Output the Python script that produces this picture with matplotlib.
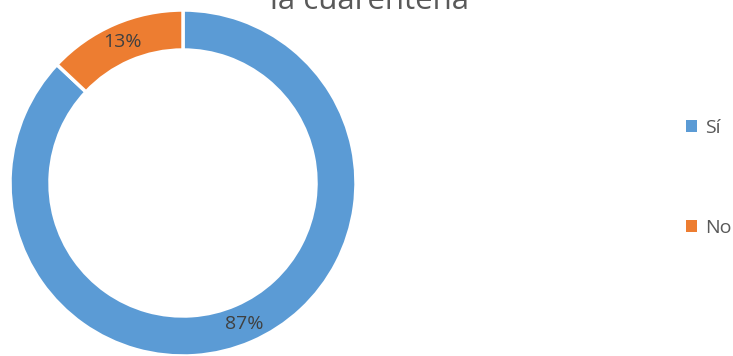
import matplotlib
matplotlib.use("Agg")
import matplotlib.pyplot as plt
from matplotlib.patches import Patch

categories = ["Sí", "No"]
values = [87, 13]
colors = ["#5B9BD5", "#ED7D31"]
title = "la cuarentena"

plt.rcParams['font.family'] = ['Open Sans', 'DejaVu Sans']

fig = plt.figure(figsize=(7.33, 3.56), dpi=100)
ax = fig.add_axes([0, 0, 1, 1])
W, H = 733, 356
cx, cy, R = 183, 356 - 183, 173
wedges, texts, autotexts = ax.pie(
    values, colors=colors, startangle=90, counterclock=False,
    center=(cx, cy), radius=R,
    autopct=lambda p: f"{p:.0f}%", pctdistance=0.885,
    wedgeprops=dict(width=40, edgecolor="white", linewidth=2.5),
    textprops=dict(color="#404040", fontsize=14),
)
ax.set_xlim(0, W)
ax.set_ylim(0, H)
ax.set_aspect("equal")
ax.axis("off")

fig.text(370 / W, 1 - 9 / H, title, ha="center", va="baseline",
         fontsize=22.5, color="#595959")

handles = [Patch(facecolor=c, edgecolor="none") for c in colors]
leg = ax.legend(handles, categories, loc="center left",
                bbox_to_anchor=(686 / W, 1 - 178 / H), frameon=False,
                fontsize=14, labelcolor="#595959", handlelength=0.55,
                handleheight=0.55, handletextpad=0.45, labelspacing=4.2,
                borderaxespad=0, borderpad=0)
fig.savefig("out.png", dpi=100)
